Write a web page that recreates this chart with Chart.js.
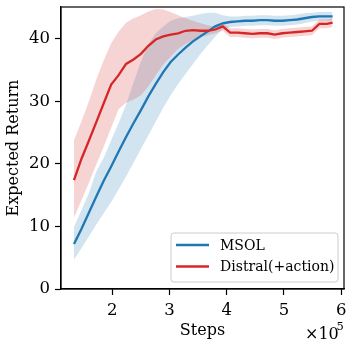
<!DOCTYPE html>
<html>
<head>
<meta charset="utf-8">
<script src="https://cdn.jsdelivr.net/npm/chart.js@4.4.1/dist/chart.umd.min.js"></script>
<style>
  html, body { margin: 0; padding: 0; background: #fff; }
  #wrap { width: 347px; height: 343px; }
</style>
</head>
<body>
<div id="wrap"><canvas id="chart" width="347" height="343"></canvas></div>
<script>
// steps, in units of 1e5
const steps = [1.33, 1.46, 1.59, 1.72, 1.85, 1.98, 2.11, 2.24, 2.37, 2.50, 2.63, 2.76,
  2.89, 3.02, 3.15, 3.28, 3.41, 3.54, 3.67, 3.80, 3.93, 4.06, 4.19, 4.32,
  4.45, 4.58, 4.71, 4.84, 4.97, 5.10, 5.23, 5.36, 5.49, 5.62, 5.75, 5.85];

const msolMean = [7.2, 9.6, 12.2, 14.8, 17.3, 19.6, 22.0, 24.3, 26.5, 28.6, 30.8, 32.8,
  34.7, 36.3, 37.5, 38.6, 39.6, 40.4, 41.2, 42.0, 42.5, 42.7, 42.8, 42.9,
  42.9, 43.0, 43.0, 42.9, 42.9, 43.0, 43.1, 43.3, 43.5, 43.6, 43.6, 43.6];
const msolLow = [4.7, 6.5, 8.4, 10.3, 12.1, 13.9, 15.9, 18.0, 20.2, 22.4, 24.6, 26.8,
  29.0, 31.0, 32.8, 34.4, 36.0, 37.6, 39.0, 40.4, 41.6, 41.9, 42.0, 42.1,
  42.1, 42.2, 42.2, 42.1, 42.1, 42.2, 42.3, 42.5, 42.8, 42.9, 42.9, 42.9];
const msolHigh = [9.9, 12.6, 15.3, 18.8, 21.0, 23.8, 26.5, 29.5, 33.0, 36.4, 39.2, 40.9,
  42.0, 42.9, 43.3, 43.5, 43.7, 44.0, 44.2, 44.2, 43.8, 43.6, 43.6, 43.7,
  43.7, 43.8, 43.8, 43.7, 43.7, 43.8, 43.9, 44.1, 44.2, 44.3, 44.3, 44.3];

const distralMean = [17.4, 20.8, 23.7, 26.7, 29.7, 32.7, 34.2, 36.0, 36.7, 37.6, 38.9, 39.9,
  40.4, 40.7, 40.9, 41.3, 41.4, 41.3, 41.3, 41.5, 42.0, 41.0, 41.0, 40.9,
  40.8, 40.9, 40.9, 40.7, 40.9, 41.0, 41.1, 41.2, 41.3, 42.4, 42.4, 42.6];
const distralLow = [11.4, 14.2, 17.0, 19.9, 22.8, 25.8, 28.8, 29.8, 30.3, 31.0, 32.4, 34.2,
  35.9, 37.2, 38.4, 39.2, 39.8, 40.3, 40.6, 40.9, 41.3, 40.3, 40.3, 40.2,
  40.1, 40.2, 40.2, 40.0, 40.2, 40.3, 40.4, 40.5, 40.6, 41.7, 41.7, 41.9];
const distralHigh = [23.8, 26.8, 30.0, 33.5, 36.6, 39.3, 41.2, 42.6, 43.3, 43.8, 44.4, 44.8,
  44.7, 44.3, 43.8, 43.3, 42.9, 42.5, 42.2, 42.0, 42.6, 41.7, 41.7, 41.6,
  41.5, 41.6, 41.6, 41.4, 41.6, 41.7, 41.8, 41.9, 42.0, 43.1, 43.1, 43.3];

const xTicks = [2, 3, 4, 5, 6];
const yTicks = [0, 10, 20, 30, 40];
const seriesNames = ["MSOL", "Distral(+action)"];

const BLUE = "#1f77b4";
const RED = "#d62728";
const SERIF = "'DejaVu Serif', serif";

function pts(values) {
  return steps.map((s, i) => ({ x: s, y: values[i] }));
}

function band(values, color, fill, order) {
  return {
    data: pts(values),
    borderWidth: 0,
    pointRadius: 0,
    backgroundColor: color,
    fill: fill,
    order: order,
  };
}

function meanLine(label, values, color, order) {
  return {
    label: label,
    data: pts(values),
    borderColor: color,
    borderWidth: 2.3,
    pointRadius: 0,
    tension: 0,
    fill: false,
    order: order,
  };
}

// no extra room for overhanging tick labels, the plot box is fixed
function noPadding(scale) {
  scale.paddingLeft = 0;
  scale.paddingRight = 0;
  scale.paddingTop = 0;
  scale.paddingBottom = 0;
}

// frame around the plot plus the x10^5 offset text
const framePlugin = {
  id: "frame",
  afterDatasetsDraw(chart) {
    const { ctx, chartArea: a } = chart;
    ctx.save();
    ctx.strokeStyle = "#000";
    ctx.lineWidth = 1.2;
    ctx.strokeRect(a.left, a.top, a.right - a.left, a.bottom - a.top);
    ctx.restore();
  },
  afterDraw(chart) {
    const { ctx } = chart;
    ctx.save();
    ctx.fillStyle = "#000";
    ctx.textBaseline = "alphabetic";
    ctx.font = "16px " + SERIF;
    ctx.textAlign = "left";
    ctx.fillText("\u00d710", 305, 339);
    ctx.font = "11.5px " + SERIF;
    ctx.fillText("5", 336.5, 330);
    ctx.restore();
  },
};

// legend box in the lower right corner of the plot
const legendPlugin = {
  id: "cornerLegend",
  afterDatasetsDraw(chart) {
    const { ctx } = chart;
    const x0 = 171, y0 = 233, w = 167, h = 49, r = 3;
    ctx.save();
    ctx.beginPath();
    ctx.roundRect(x0, y0, w, h, r);
    ctx.fillStyle = "rgba(255,255,255,0.8)";
    ctx.fill();
    ctx.strokeStyle = "#cccccc";
    ctx.lineWidth = 1;
    ctx.stroke();

    const colors = [BLUE, RED];
    const rows = [245, 266.5];
    ctx.font = "14px " + SERIF;
    ctx.textBaseline = "middle";
    ctx.textAlign = "left";
    seriesNames.forEach((name, i) => {
      ctx.strokeStyle = colors[i];
      ctx.lineWidth = 2.3;
      ctx.beginPath();
      ctx.moveTo(176, rows[i]);
      ctx.lineTo(209, rows[i]);
      ctx.stroke();
      ctx.fillStyle = "#000";
      ctx.fillText(name, 220, rows[i] + 1);
    });
    ctx.restore();
  },
};

new Chart(document.getElementById("chart"), {
  type: "line",
  data: {
    datasets: [
      band(msolLow, "rgba(31,119,180,0.2)", false, 5),
      band(msolHigh, "rgba(31,119,180,0.2)", "-1", 4),
      band(distralLow, "rgba(214,39,40,0.2)", false, 3),
      band(distralHigh, "rgba(214,39,40,0.2)", "-1", 2),
      meanLine(seriesNames[0], msolMean, BLUE, 1),
      meanLine(seriesNames[1], distralMean, RED, 0),
    ],
  },
  options: {
    responsive: false,
    animation: false,
    devicePixelRatio: 1,
    layout: { padding: { left: 0, right: 3, top: 7, bottom: 0 } },
    plugins: {
      legend: { display: false },
      tooltip: { enabled: false },
    },
    scales: {
      x: {
        type: "linear",
        min: 1.103,
        max: 6.05,
        afterBuildTicks: (scale) => {
          scale.ticks = xTicks.map((v) => ({ value: v }));
        },
        afterFit: (scale) => {
          scale.height = 54;
          noPadding(scale);
        },
        grid: {
          display: true,
          drawOnChartArea: false,
          drawTicks: true,
          tickLength: 6,
          tickWidth: 1.2,
          tickColor: "#000",
        },
        border: { display: true, color: "#000", width: 1.2 },
        ticks: {
          color: "#000",
          padding: 6,
          maxRotation: 0,
          font: { family: SERIF, size: 16.5 },
          callback: (v) => String(v),
        },
        title: {
          display: true,
          text: "Steps",
          color: "#000",
          font: { family: SERIF, size: 16 },
          padding: { top: 0, bottom: 3 },
        },
      },
      y: {
        min: 0,
        max: 45.1,
        afterBuildTicks: (scale) => {
          scale.ticks = yTicks.map((v) => ({ value: v }));
        },
        afterFit: (scale) => {
          scale.width = 61;
          noPadding(scale);
        },
        grid: {
          display: true,
          drawOnChartArea: false,
          drawTicks: true,
          tickLength: 6,
          tickWidth: 1.2,
          tickColor: "#000",
        },
        border: { display: true, color: "#000", width: 1.2 },
        ticks: {
          color: "#000",
          padding: 5,
          font: { family: SERIF, size: 16.5 },
          callback: (v) => String(v),
        },
        title: {
          display: true,
          text: "Expected Return",
          color: "#000",
          font: { family: SERIF, size: 16 },
          padding: { top: 4, bottom: 0 },
        },
      },
    },
  },
  plugins: [legendPlugin, framePlugin],
});
</script>
</body>
</html>
